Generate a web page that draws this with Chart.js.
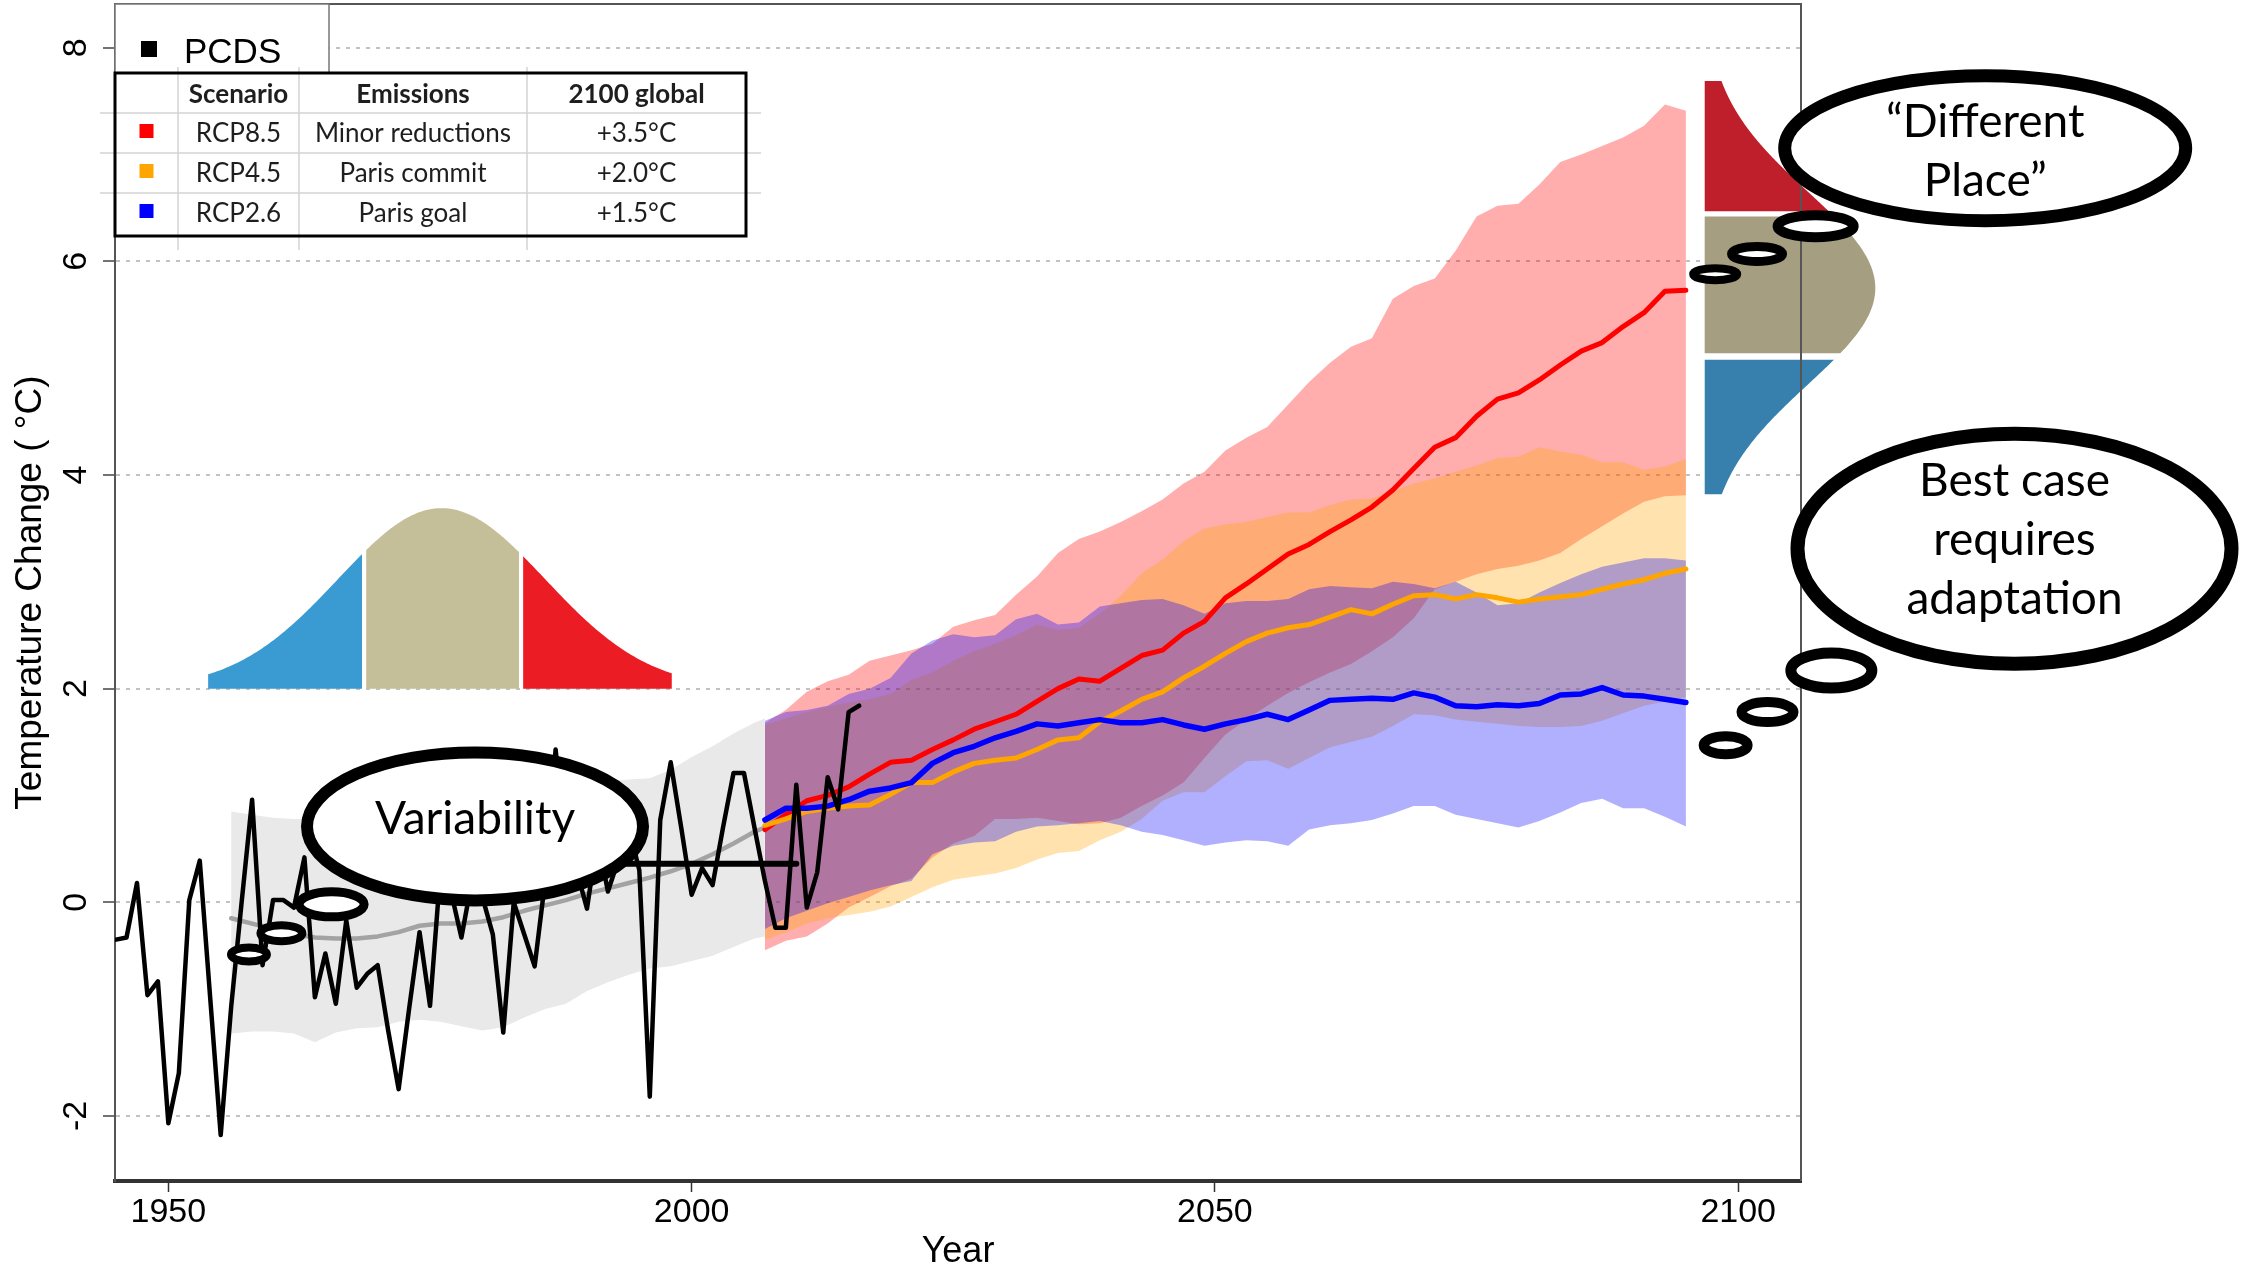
<!DOCTYPE html>
<html>
<head>
<meta charset="utf-8">
<script src="https://cdn.jsdelivr.net/npm/chart.js@4.4.1/dist/chart.umd.min.js"></script>
<style>
  html, body { margin: 0; padding: 0; background: #fff; }
  #wrap { width: 2257px; height: 1270px; }
</style>
</head>
<body>
<div id="wrap"><canvas id="chart" width="2257" height="1270"></canvas></div>
<script>
// --- Axis ticks ---
const yearTicks = [1950, 2000, 2050, 2100];
const tempTicks = [-2, 0, 2, 4, 6, 8];

// --- Observed (PCDS) ---
const pcdsYears = [1945, 1946, 1947, 1948, 1949, 1950, 1951, 1952, 1953, 1954, 1955, 1956, 1957, 1958, 1959,
  1960, 1961, 1962, 1963, 1964, 1965, 1966, 1967, 1968, 1969, 1970, 1971, 1972, 1973, 1974, 1975, 1976, 1977,
  1978, 1979, 1980, 1981, 1982, 1983, 1984, 1985, 1986, 1987, 1988, 1989, 1990, 1991, 1992, 1993, 1994, 1995,
  1996, 1997, 1998, 1999, 2000, 2001, 2002, 2003, 2004, 2005, 2006, 2007, 2008, 2009, 2010, 2011, 2012, 2013,
  2014, 2015, 2016];
const pcdsTemp = [-0.35, -0.33, 0.18, -0.87, -0.74, -2.07, -1.60, 0.02, 0.39, -0.90, -2.18, -0.98, 0.00, 0.96, -0.59,
  0.02, 0.02, -0.05, 0.42, -0.89, -0.48, -0.95, -0.17, -0.80, -0.67, -0.59, -1.20, -1.75, -1.00, -0.28, -0.97, 0.30, 0.10,
  -0.33, 0.20, 0.05, -0.30, -1.22, 0.00, -0.30, -0.60, 0.20, 1.43, 0.50, 0.30, -0.06, 0.60, 0.10, 0.40, 0.70, 0.30,
  -1.82, 0.77, 1.31, 0.70, 0.07, 0.32, 0.16, 0.70, 1.21, 1.21, 0.70, 0.20, -0.24, -0.24, 1.10, -0.05, 0.28, 1.17,
  0.87, 1.78, 1.84];

// baseline mean segment
const meanYears = [1981, 2010];
const meanTemp = [0.36, 0.36];

// --- Historical model range ---
const histYears = [1956, 1958, 1960, 1962, 1964, 1966, 1968, 1970, 1972, 1974, 1976, 1978, 1980, 1982, 1984,
  1986, 1988, 1990, 1992, 1994, 1996, 1998, 2000, 2002, 2004, 2006, 2007];
const histHi = [0.85, 0.82, 0.79, 0.78, 0.78, 0.80, 0.82, 0.85, 0.88, 0.90, 0.93, 0.95, 1.00, 1.02, 1.05,
  1.08, 1.10, 1.12, 1.13, 1.15, 1.16, 1.24, 1.36, 1.46, 1.58, 1.68, 1.72];
const histMid = [-0.15, -0.20, -0.25, -0.30, -0.33, -0.34, -0.34, -0.32, -0.28, -0.22, -0.20, -0.20, -0.18, -0.14, -0.08,
  -0.03, 0.02, 0.08, 0.13, 0.18, 0.23, 0.29, 0.36, 0.45, 0.55, 0.66, 0.70];
const histLo = [-1.23, -1.21, -1.21, -1.23, -1.31, -1.22, -1.18, -1.17, -1.12, -1.10, -1.12, -1.16, -1.20, -1.17, -1.08,
  -1.00, -0.95, -0.83, -0.75, -0.68, -0.62, -0.60, -0.55, -0.50, -0.42, -0.34, -0.32];

// --- Projections ---
const projYears = [2007, 2009, 2011, 2013, 2015, 2017, 2019, 2021, 2023, 2025, 2027, 2029, 2031, 2033, 2035,
  2037, 2039, 2041, 2043, 2045, 2047, 2049, 2051, 2053, 2055, 2057, 2059, 2061, 2063, 2065, 2067, 2069, 2071,
  2073, 2075, 2077, 2079, 2081, 2083, 2085, 2087, 2089, 2091, 2093, 2095];

const rcp85Mid = [0.68, 0.82, 0.95, 1.00, 1.08, 1.20, 1.31, 1.33, 1.43, 1.52, 1.62, 1.69, 1.76, 1.88, 2.00,
  2.09, 2.07, 2.19, 2.31, 2.36, 2.52, 2.63, 2.85, 2.98, 3.12, 3.26, 3.35, 3.47, 3.58, 3.70, 3.86, 4.06, 4.26,
  4.35, 4.55, 4.71, 4.77, 4.89, 5.03, 5.16, 5.24, 5.39, 5.52, 5.72, 5.73];
const rcp85Hi = [1.68, 1.80, 1.97, 2.07, 2.13, 2.26, 2.31, 2.36, 2.42, 2.58, 2.64, 2.69, 2.88, 3.05, 3.27,
  3.40, 3.47, 3.56, 3.66, 3.77, 3.92, 4.03, 4.23, 4.35, 4.45, 4.66, 4.87, 5.05, 5.20, 5.28, 5.65, 5.77, 5.84,
  6.10, 6.42, 6.52, 6.54, 6.72, 6.93, 7.00, 7.08, 7.16, 7.27, 7.47, 7.41];
const rcp85Lo = [-0.45, -0.36, -0.32, -0.20, -0.05, 0.05, 0.15, 0.22, 0.42, 0.55, 0.62, 0.78, 0.78, 0.79, 0.76,
  0.73, 0.74, 0.79, 0.90, 1.00, 1.12, 1.35, 1.57, 1.71, 1.84, 1.96, 2.06, 2.15, 2.23, 2.35, 2.48, 2.66, 2.93,
  3.00, 3.07, 3.12, 3.15, 3.20, 3.27, 3.40, 3.52, 3.64, 3.75, 3.80, 3.81];

const rcp45Mid = [0.72, 0.78, 0.85, 0.88, 0.90, 0.91, 1.01, 1.12, 1.12, 1.22, 1.30, 1.33, 1.35, 1.43, 1.52,
  1.54, 1.69, 1.79, 1.90, 1.97, 2.10, 2.21, 2.33, 2.44, 2.52, 2.57, 2.60, 2.67, 2.74, 2.70, 2.79, 2.87, 2.88,
  2.84, 2.88, 2.85, 2.81, 2.84, 2.86, 2.88, 2.93, 2.98, 3.02, 3.08, 3.12];
const rcp45Hi = [1.66, 1.72, 1.78, 1.83, 1.87, 1.90, 1.95, 2.08, 2.15, 2.26, 2.35, 2.42, 2.50, 2.60, 2.55,
  2.57, 2.70, 2.87, 3.08, 3.21, 3.38, 3.50, 3.54, 3.56, 3.61, 3.65, 3.65, 3.72, 3.77, 3.78, 3.85, 3.92, 3.97,
  4.03, 4.09, 4.16, 4.17, 4.26, 4.22, 4.19, 4.12, 4.12, 4.05, 4.08, 4.15];
const rcp45Lo = [-0.35, -0.28, -0.20, -0.15, -0.12, -0.09, -0.04, 0.05, 0.14, 0.21, 0.24, 0.27, 0.32, 0.40, 0.46,
  0.48, 0.58, 0.66, 0.78, 0.95, 1.03, 1.03, 1.18, 1.32, 1.33, 1.25, 1.35, 1.45, 1.50, 1.55, 1.65, 1.76, 1.75,
  1.71, 1.69, 1.67, 1.65, 1.64, 1.64, 1.65, 1.70, 1.77, 1.84, 1.88, 1.92];

const rcp26Mid = [0.77, 0.88, 0.88, 0.90, 0.96, 1.04, 1.07, 1.12, 1.30, 1.40, 1.46, 1.54, 1.60, 1.67, 1.65,
  1.68, 1.71, 1.68, 1.68, 1.71, 1.66, 1.62, 1.67, 1.71, 1.76, 1.71, 1.80, 1.89, 1.90, 1.91, 1.90, 1.96, 1.92,
  1.84, 1.83, 1.85, 1.84, 1.86, 1.94, 1.95, 2.01, 1.94, 1.93, 1.90, 1.87];
const rcp26Hi = [1.70, 1.78, 1.80, 1.84, 1.95, 2.00, 2.10, 2.33, 2.45, 2.51, 2.48, 2.50, 2.65, 2.70, 2.60,
  2.62, 2.77, 2.80, 2.83, 2.84, 2.78, 2.70, 2.80, 2.82, 2.82, 2.84, 2.93, 2.96, 2.95, 2.94, 3.00, 2.98, 2.94,
  3.00, 2.90, 2.78, 2.80, 2.90, 2.99, 3.07, 3.14, 3.18, 3.22, 3.22, 3.20];
const rcp26Lo = [-0.25, -0.15, -0.08, -0.01, 0.05, 0.11, 0.16, 0.20, 0.45, 0.53, 0.56, 0.57, 0.66, 0.71, 0.72,
  0.74, 0.76, 0.72, 0.66, 0.63, 0.58, 0.53, 0.56, 0.58, 0.57, 0.53, 0.68, 0.72, 0.74, 0.77, 0.83, 0.90, 0.90,
  0.82, 0.78, 0.74, 0.70, 0.76, 0.84, 0.93, 0.97, 0.88, 0.88, 0.80, 0.71];

// --- Legend table ---
const tableHead = ["", "Scenario", "Emissions", "2100 global"];
const scenarios = ["RCP8.5", "RCP4.5", "RCP2.6"];
const emissions = ["Minor reductions", "Paris commit", "Paris goal"];
const warming2100 = ["+3.5°C", "+2.0°C", "+1.5°C"];
const scenarioColors = ["#ff0000", "#ffa500", "#0000ff"];

const pts = (xs, ys) => xs.map((x, i) => ({ x, y: ys[i] }));
const AXIS_FONT = '"Liberation Sans", Arial, sans-serif';
const NOTE_FONT = 'Lato, "Open Sans", sans-serif';

// --- Illustrations (anchored in data units) ---
const leftBell = {
  base: 2, center: 1976.1, sigma: 9.9, height: 1.69,
  parts: [
    { from: 1953.8, to: 1968.5, color: "#3a9ad2" },
    { from: 1968.9, to: 1983.5, color: "#c5bf99" },
    { from: 1983.9, to: 1998.1, color: "#ec1c24" }
  ]
};
const rightBell = {
  base: 2096.8, center: 5.75, sigma: 0.9, height: 16.3,
  parts: [
    { from: 6.47, to: 7.69, color: "#bf1f2b" },
    { from: 5.14, to: 6.42, color: "#a59e80" },
    { from: 3.82, to: 5.08, color: "#3780ae" }
  ]
};
const smallBubbles = [
  [1957.7, -0.49, 22, 11, 8], [1960.8, -0.29, 25, 12, 8], [1965.6, -0.02, 37, 17, 9],
  [2107.4, 6.33, 43, 16, 10], [2101.8, 6.07, 30, 12, 9], [2097.8, 5.88, 26, 10, 8],
  [2108.9, 2.17, 46, 23, 11], [2102.8, 1.78, 31, 15, 10], [2098.8, 1.47, 27, 14, 10]
];
const bigBubbles = [
  { x: 1979.3, y: 0.71, rx: 174, ry: 80, lw: 12, lines: [["Variability", 8]] },
  { x: 2123.6, y: 7.06, rx: 207, ry: 79, lw: 13, lines: [["\u201CDifferent", -11], ["Place\u201D", 48]] },
  { x: 2126.4, y: 3.31, rx: 224, ry: 122, lw: 14, lines: [["Best case", -53], ["requires", 6], ["adaptation", 65]] }
];

// --- Decorations plugin ---
const decor = {
  id: "decor",
  afterDraw(chart) {
    const { ctx, chartArea: a, scales: { x, y } } = chart;
    const px = v => x.getPixelForValue(v);
    const py = v => y.getPixelForValue(v);
    const gauss = (t, c, s) => Math.exp(-((t - c) ** 2) / (2 * s * s));
    ctx.save();

    // bell curves
    leftBell.parts.forEach(p => {
      ctx.beginPath();
      ctx.moveTo(px(p.from), py(leftBell.base));
      for (let i = 0; i <= 80; i++) {
        const t = p.from + (p.to - p.from) * i / 80;
        ctx.lineTo(px(t), py(leftBell.base + leftBell.height * gauss(t, leftBell.center, leftBell.sigma)));
      }
      ctx.lineTo(px(p.to), py(leftBell.base));
      ctx.closePath();
      ctx.fillStyle = p.color;
      ctx.fill();
    });
    rightBell.parts.forEach(p => {
      ctx.beginPath();
      ctx.moveTo(px(rightBell.base), py(p.from));
      for (let i = 0; i <= 80; i++) {
        const t = p.from + (p.to - p.from) * i / 80;
        ctx.lineTo(px(rightBell.base + rightBell.height * gauss(t, rightBell.center, rightBell.sigma)), py(t));
      }
      ctx.lineTo(px(rightBell.base), py(p.to));
      ctx.closePath();
      ctx.fillStyle = p.color;
      ctx.fill();
    });

    // rest of the plot box
    ctx.strokeStyle = "#555";
    ctx.lineWidth = 2;
    ctx.beginPath();
    ctx.moveTo(a.left, a.top);
    ctx.lineTo(a.right, a.top);
    ctx.lineTo(a.right, a.bottom);
    ctx.stroke();

    // y tick labels, rotated like R
    ctx.font = "34px " + AXIS_FONT;
    ctx.fillStyle = "#000";
    ctx.textAlign = "center";
    ctx.textBaseline = "middle";
    y.ticks.forEach(t => {
      ctx.save();
      ctx.translate(y.right - 38, py(t.value));
      ctx.rotate(-Math.PI / 2);
      ctx.fillText(String(t.value), 0, 0);
      ctx.restore();
    });

    // PCDS legend box
    const lx = a.left, lw = 214;
    ctx.fillStyle = "#fff";
    ctx.fillRect(lx, a.top, lw, 70);
    ctx.strokeStyle = "#777";
    ctx.lineWidth = 1.5;
    ctx.strokeRect(lx, a.top, lw, 70);
    ctx.fillStyle = "#000";
    ctx.fillRect(lx + 26, a.top + 37, 16, 16);
    ctx.font = "35px " + AXIS_FONT;
    ctx.textAlign = "left";
    ctx.textBaseline = "alphabetic";
    ctx.fillText("PCDS", lx + 69, a.top + 59);

    // scenario table
    const tx = a.left, ty = a.top + 69;
    const colX = [0, 63, 184, 412, 631];
    const rowY = [0, 40, 80, 120, 163];
    ctx.fillStyle = "#fff";
    ctx.fillRect(tx, ty, colX[4], rowY[4]);
    ctx.strokeStyle = "#d4d4d4";
    ctx.lineWidth = 1.5;
    ctx.beginPath();
    colX.slice(1, 4).forEach(c => { ctx.moveTo(tx + c, ty - 6); ctx.lineTo(tx + c, ty + rowY[4] + 14); });
    rowY.slice(1, 4).forEach(r => { ctx.moveTo(tx - 15, ty + r); ctx.lineTo(tx + colX[4] + 15, ty + r); });
    ctx.stroke();
    ctx.strokeStyle = "#000";
    ctx.lineWidth = 3;
    ctx.strokeRect(tx, ty, colX[4], rowY[4]);
    const colMid = i => tx + (colX[i] + colX[i + 1]) / 2;
    ctx.textAlign = "center";
    ctx.fillStyle = "#1e1e1e";
    ctx.font = "bold 26px " + NOTE_FONT;
    tableHead.forEach((h, i) => { if (h) ctx.fillText(h, colMid(i), ty + 30); });
    ctx.font = "26px " + NOTE_FONT;
    scenarios.forEach((s, r) => {
      const base = ty + rowY[r + 1] + 29;
      ctx.fillStyle = scenarioColors[r];
      ctx.fillRect(colMid(0) - 7, base - 18, 14, 14);
      ctx.fillStyle = "#1e1e1e";
      ctx.fillText(s, colMid(1), base);
      ctx.fillText(emissions[r], colMid(2), base);
      ctx.fillText(warming2100[r], colMid(3), base);
    });

    // thought bubbles
    const ellipse = (cx, cy, rx, ry, w) => {
      ctx.beginPath();
      ctx.ellipse(cx, cy, rx - w / 2, ry - w / 2, 0, 0, Math.PI * 2);
      ctx.fillStyle = "#fff";
      ctx.fill();
      ctx.lineWidth = w;
      ctx.strokeStyle = "#000";
      ctx.stroke();
    };
    smallBubbles.forEach(([bx, by, rx, ry, w]) => ellipse(px(bx), py(by), rx, ry, w));
    ctx.font = "46px " + NOTE_FONT;
    ctx.textAlign = "center";
    bigBubbles.forEach(b => {
      const cx = px(b.x), cy = py(b.y);
      ellipse(cx, cy, b.rx, b.ry, b.lw);
      ctx.fillStyle = "#000";
      b.lines.forEach(([t, off]) => ctx.fillText(t, cx, cy + off));
    });
    ctx.restore();
  }
};

const lineStyle = { pointRadius: 0, tension: 0, borderJoinStyle: "round", borderCapStyle: "round", fill: false };
const bandEdge = { pointRadius: 0, tension: 0, borderWidth: 0 };

new Chart(document.getElementById("chart"), {
  type: "line",
  data: {
    datasets: [
      { ...lineStyle, label: "PCDS", data: pts(pcdsYears, pcdsTemp), borderColor: "#000", borderWidth: 4.5, order: 0 },
      { ...lineStyle, label: "mean", data: pts(meanYears, meanTemp), borderColor: "#000", borderWidth: 6, order: 1 },
      { ...lineStyle, label: "RCP2.6", data: pts(projYears, rcp26Mid), borderColor: "#0000ff", borderWidth: 5.5, order: 2 },
      { ...lineStyle, label: "RCP4.5", data: pts(projYears, rcp45Mid), borderColor: "#ffa500", borderWidth: 5, order: 3 },
      { ...lineStyle, label: "RCP8.5", data: pts(projYears, rcp85Mid), borderColor: "#ff0000", borderWidth: 5, order: 4 },
      { ...bandEdge, label: "RCP2.6 hi", data: pts(projYears, rcp26Hi), fill: "+1", backgroundColor: "rgba(0,0,255,0.31)", order: 5 },
      { ...bandEdge, label: "RCP2.6 lo", data: pts(projYears, rcp26Lo), fill: false, order: 6 },
      { ...bandEdge, label: "RCP4.5 hi", data: pts(projYears, rcp45Hi), fill: "+1", backgroundColor: "rgba(255,165,0,0.32)", order: 7 },
      { ...bandEdge, label: "RCP4.5 lo", data: pts(projYears, rcp45Lo), fill: false, order: 8 },
      { ...bandEdge, label: "RCP8.5 hi", data: pts(projYears, rcp85Hi), fill: "+1", backgroundColor: "rgba(255,0,0,0.32)", order: 9 },
      { ...bandEdge, label: "RCP8.5 lo", data: pts(projYears, rcp85Lo), fill: false, order: 10 },
      { ...lineStyle, label: "hist", data: pts(histYears, histMid), borderColor: "#a3a3a3", borderWidth: 4.5, order: 11 },
      { ...bandEdge, label: "hist hi", data: pts(histYears, histHi), fill: "+1", backgroundColor: "#e9e9e9", order: 12 },
      { ...bandEdge, label: "hist lo", data: pts(histYears, histLo), fill: false, order: 13 }
    ]
  },
  options: {
    responsive: false,
    devicePixelRatio: 1,
    animation: false,
    layout: { padding: { top: 4, right: 456, bottom: 0, left: 0 } },
    plugins: { legend: { display: false }, tooltip: { enabled: false } },
    scales: {
      x: {
        type: "linear",
        min: 1944.9,
        max: 2106,
        afterBuildTicks: s => { s.ticks = yearTicks.map(v => ({ value: v })); },
        afterFit: s => { s.height = 89; },
        ticks: { color: "#000", padding: 0, font: { family: AXIS_FONT, size: 34 }, callback: v => String(v), maxRotation: 0 },
        grid: { drawOnChartArea: false, drawTicks: true, tickLength: 11, tickColor: "#333", tickWidth: 1.5 },
        border: { color: "#333", width: 4 },
        title: { display: true, text: "Year", color: "#000", font: { family: AXIS_FONT, size: 36, lineHeight: 1 }, padding: { top: 0, bottom: 0 } }
      },
      y: {
        type: "linear",
        min: -2.61,
        max: 8.41,
        z: 1,
        afterBuildTicks: s => { s.ticks = tempTicks.map(v => ({ value: v })); },
        afterFit: s => { s.width = 115; },
        ticks: { display: false },
        grid: { color: "#c2c2c2", lineWidth: 2, drawTicks: true, tickLength: 12, tickColor: "#444", tickWidth: 1.5 },
        border: { color: "#555", width: 2, dash: [4, 6] },
        title: { display: true, text: "Temperature Change ( °C)", color: "#000", font: { family: AXIS_FONT, size: 37, lineHeight: 1 }, padding: { top: 12, bottom: 0 } }
      }
    }
  },
  plugins: [decor]
});
</script>
</body>
</html>
